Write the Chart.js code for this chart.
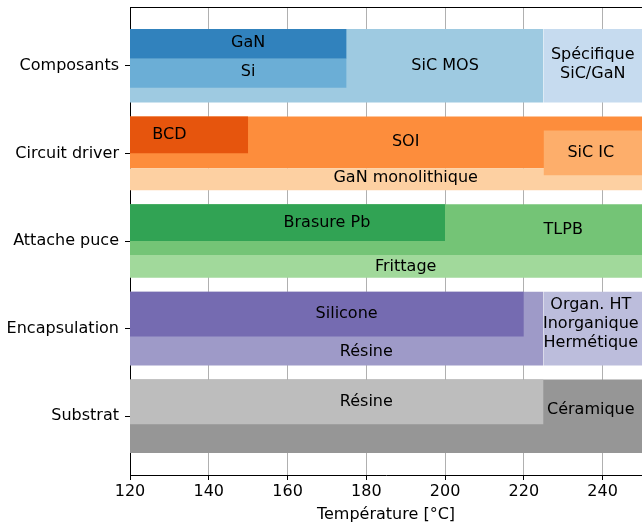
<!DOCTYPE html>
<html>
<head>
<meta charset="utf-8">
<script src="https://cdn.jsdelivr.net/npm/chart.js@4"></script>
<style>
  body { margin: 0; background: #fff; }
  #wrap { width: 642px; height: 523px; }
</style>
</head>
<body>
<div id="wrap"><canvas id="myCanvas"></canvas></div>
<script>
'use strict';

// rows (y axis, top to bottom)
const rows = ['Composants', 'Circuit driver', 'Attache puce', 'Encapsulation', 'Substrat'];

// rectangles, back to front: temperature range and band (in row units)
const rectNames = ['SiC MOS', 'Spécifique', 'GaN', 'Si',
  'SOI', 'GaN monolithique', 'BCD', 'SiC IC',
  'TLPB', 'Frittage', 'Brasure Pb',
  'Résine enc', 'Organ. HT', 'Silicone',
  'Céramique', 'Résine sub'];
const rectStart = [120, 225, 120, 120,  120, 120, 120, 225,  120, 120, 120,  120, 225, 120,  120, 120];
const rectEnd   = [225, 250, 175, 175,  250, 250, 150, 250,  250, 250, 200,  225, 250, 220,  250, 225];
const rectLow   = [-0.42, -0.42, -0.42, -0.08,  0.58, 1.17, 0.58, 0.74,  1.58, 2.16, 1.58,  2.58, 2.58, 2.58,  3.58, 3.58];
const rectHigh  = [0.42, 0.42, -0.08, 0.25,  1.17, 1.42, 1.0, 1.25,  2.16, 2.42, 2.0,  3.42, 3.42, 3.09,  4.42, 4.09];
const rectColors = ['#9ecae1', '#c6dbef', '#3182bd', '#6baed6',
  '#fd8d3c', '#fdd0a2', '#e6550d', '#fdae6b',
  '#74c476', '#a1d99b', '#31a354',
  '#9e9ac8', '#bcbddc', '#756bb1',
  '#969696', '#bdbdbd'];

// text annotations
const labelText = ['GaN', 'Si', 'SiC MOS', 'Spécifique\nSiC/GaN',
  'BCD', 'SOI', 'SiC IC', 'GaN monolithique',
  'Brasure Pb', 'TLPB', 'Frittage',
  'Silicone', 'Résine', 'Organ. HT\nInorganique\nHermétique',
  'Résine', 'Céramique'];
const labelX = [150, 150, 200, 237.5,  130, 190, 237, 190,  170, 230, 190,  175, 180, 237,  180, 237];
const labelY = [-0.26, 0.07, 0, -0.01,  0.79, 0.87, 0.99, 1.28,  1.79, 1.87, 2.29,  2.83, 3.26, 2.95,  3.83, 3.93];

const xTicks = [120, 140, 160, 180, 200, 220, 240];

Chart.defaults.font.family = 'DejaVu Sans';
Chart.defaults.font.size = 16;
Chart.defaults.color = '#000';

const datasets = rectNames.map(function(name, i) {
  return {
    label: name,
    data: [{x: rectStart[i], y: rectHigh[i]}, {x: rectEnd[i], y: rectHigh[i]}],
    fill: {value: rectLow[i]},
    backgroundColor: rectColors[i],
    borderColor: 'rgba(0,0,0,0)',
    borderWidth: 0,
    pointRadius: 0,
    order: rectNames.length - i
  };
});

const textPlugin = {
  id: 'textLabels',
  afterDatasetsDraw(chart) {
    const ctx = chart.ctx;
    const xs = chart.scales.x, ys = chart.scales.y;
    ctx.save();
    ctx.font = '16px "DejaVu Sans"';
    ctx.fillStyle = '#000';
    ctx.textAlign = 'center';
    ctx.textBaseline = 'middle';
    for (let i = 0; i < labelText.length; i++) {
      const lines = labelText[i].split('\n');
      const px = xs.getPixelForValue(labelX[i]);
      const py = ys.getPixelForValue(labelY[i]);
      const lh = 19;
      lines.forEach(function(t, k) {
        ctx.fillText(t, px, py + (k - (lines.length - 1) / 2) * lh);
      });
    }
    ctx.restore();
  },
  afterDraw(chart) {
    // top spine
    const a = chart.chartArea, ctx = chart.ctx;
    ctx.save();
    ctx.strokeStyle = '#000';
    ctx.lineWidth = 1;
    ctx.beginPath();
    ctx.moveTo(a.left, a.top + 0.5);
    ctx.lineTo(a.right, a.top + 0.5);
    ctx.stroke();
    ctx.restore();
  }
};

let myChart = document.getElementById('myCanvas').getContext('2d');
new Chart(myChart, {
  type: 'line',
  data: { datasets: datasets },
  plugins: [textPlugin],
  options: {
    responsive: true,
    maintainAspectRatio: false,
    animation: false,
    events: [],
    layout: { padding: { top: 7, left: 0, right: 0, bottom: 0 } },
    plugins: { legend: { display: false }, tooltip: { enabled: false } },
    scales: {
      x: {
        type: 'linear',
        min: 120,
        max: 250,
        afterBuildTicks: function(scale) {
          scale.ticks = xTicks.map(function(v) { return {value: v}; });
        },
        afterFit: function(scale) { scale.height = 48; },
        ticks: { padding: 2, color: '#000', maxRotation: 0 },
        grid: { color: '#b0b0b0', lineWidth: 1, tickLength: 5, tickColor: '#000' },
        border: { color: '#000', width: 1 },
        title: {
          display: true,
          text: 'Température [°C]',
          color: '#000',
          font: { size: 16, lineHeight: 1 },
          padding: { top: 0, bottom: 0 }
        }
      },
      y: {
        type: 'linear',
        reverse: true,
        min: -0.67,
        max: 4.67,
        afterBuildTicks: function(scale) {
          scale.ticks = rows.map(function(r, i) { return {value: i}; });
        },
        afterFit: function(scale) {
          scale.width = 130;
          scale.paddingTop = 0;
          scale.paddingBottom = 0;
        },
        ticks: {
          padding: 6,
          color: '#000',
          callback: function(v) { return rows[v]; }
        },
        grid: { drawOnChartArea: false, tickLength: 5, tickColor: '#000', lineWidth: 1 },
        border: { color: '#000', width: 1 }
      }
    }
  }
});
</script>
</body>
</html>
